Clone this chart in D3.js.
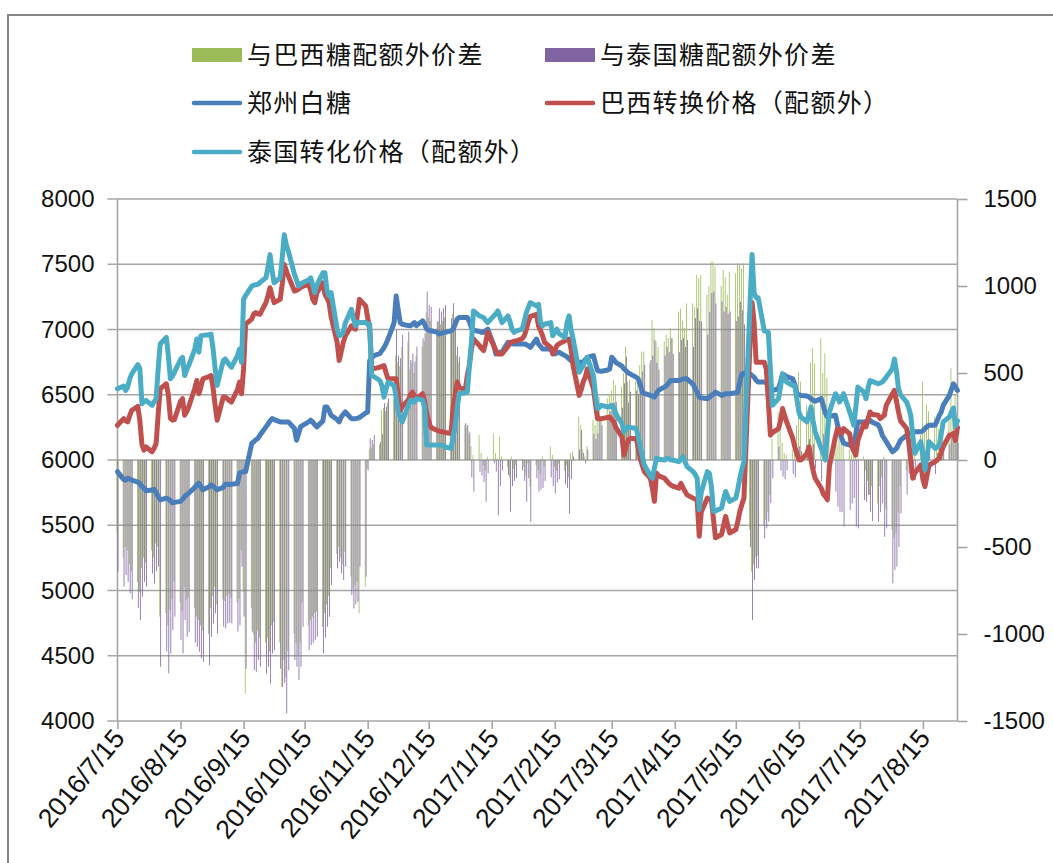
<!DOCTYPE html>
<html lang="zh">
<head>
<meta charset="utf-8">
<title>白糖配额外价差</title>
<script src="https://cdnjs.cloudflare.com/ajax/libs/d3/7.8.5/d3.min.js"></script>
<style>
  body { margin: 0; background: #fff; }
  svg { display: block; font-family: "Liberation Sans", Arial, sans-serif; }
  .grid line { stroke: #a6a6a6; stroke-width: 1.6; }
  .axis path { display: none; }
  .axis line { stroke: #a6a6a6; stroke-width: 1.6; }
  .axis text { fill: #111; font-size: 24px; font-family: "Liberation Sans", Arial, sans-serif; }
  .axis.x text { font-size: 26.5px; }
  .legend text { font-family: "Noto Sans CJK SC", sans-serif; font-size: 25px; fill: #111; letter-spacing: 1.3px; }
  .series { fill: none; stroke-width: 5; stroke-linejoin: round; stroke-linecap: round; }
</style>
</head>
<body>
<div id="chart"></div>
<script>

/* Data: one value per weekday, 2016-07-15 .. 2017-09-01 */
/* ===================================================== */

var firstDay = '2016-07-15';
var lastDay = '2017-09-01';

// 郑州白糖
var zhengzhou = [5911,
  5850,5845,5860,5855,5845, 5830,5820,5797,5785,5765, 5770,5775,5750,5720,5695, 5708,5700,5690,5672,5675,
  5683,5700,5720,5733,5745, 5790,5810,5822,5795,5772, 5795,5810,5800,5785,5772, 5790,5815,5815,5812,5815,
  5820,5899,5905,5911,5911, 6127,6140,6155,6165,6190, 6254,6275,6300,6317,6310, 6292,6292,6292,6292,6292,
  6241,6152,6200,6254,6265, 6292,6305,6290,6270,6254, 6300,6406,6406,6380,6343, 6310,6292,6330,6350,6368,
  6317,6317,6317,6320,6325, 6360,6368,6762,6780,6800, 6815,6838,6860,6890,6927, 7053,7257,7150,7053,7040,
  7030,7028,7040,7053,7030, 7066,7040,7003,6995,6990, 6980,6965,6970,6975,6978, 6990,7003,7040,7080,7092,
  7092,7092,7060,7015,6995, 6985,6978,6978,6990,7003, 6880,6813,6820,6826,6826, 6901,6895,6890,6889,6889,
  6889,6889,6885,6875,6863, 6927,6888,6870,6851,6851, 6851,6830,6813,6820,6826, 6800,6790,6775,6762,6758,
  6749,6749,6749,6770,6787, 6800,6740,6686,6682,6680, 6690,6698,6787,6770,6749, 6720,6698,6685,6670,6660,
  6635,6622,6580,6520,6510, 6495,6490,6482,6510,6533, 6560,6571,6590,6609,6609, 6609,6615,6620,6622,6622,
  6580,6546,6520,6482,6476, 6470,6480,6495,6505,6520, 6495,6500,6508,6508,6508, 6515,6520,6600,6660,6665,
  6660,6647,6635,6610,6597, 6597,6590,6570,6550,6533, 6546,6600,6660,6650,6640, 6622,6580,6508,6500,6495,
  6490,6482,6470,6457,6450, 6470,6420,6360,6330,6335, 6343,6270,6216,6170,6130, 6114,6120,6127,6200,6292,
  6292,6295,6300,6305,6290, 6270,6240,6190,6165,6140, 6063,6075,6089,6120,6152, 6190,6203,6210,6216,6216,
  6216,6225,6241,6255,6267, 6267,6300,6340,6368,6420, 6495,6540,6584,6560,6533];

// 巴西转换价格（配额外）
var brazilPrice = [6266,
  6317,6300,6292,6340,6381, 6410,6300,6120,6076,6100, 6063,6090,6127,6350,6546, 6584,6500,6320,6305,6310,
  6450,6470,6343,6370,6406, 6550,6609,6508,6560,6622, 6640,6647,6550,6420,6305, 6482,6482,6470,6455,6444,
  6540,6597,6508,6700,7041, 7080,7120,7130,7120,7117, 7206,7260,7320,7260,7206, 7231,7350,7498,7450,7409,
  7295,7300,7310,7320,7330, 7346,7300,7230,7206,7280, 7358,7269,7240,7206,7100, 6900,6762,6830,6901,6950,
  7028,7010,7003,7120,7231, 7181,7090,7003,6698,6700, 6711,6718,6724,6670,6622, 6622,6622,6500,6381,6410,
  6460,6500,6520,6490,6470, 6508,6450,6355,6300,6250, 6228,6222,6218,6216,6210, 6203,6400,6495,6597,6560,
  6533,6650,6724,6850,6927, 6876,6855,6838,6900,6978, 6876,6840,6813,6813,6813, 6870,6901,6905,6910,6912,
  6930,6952,7000,7060,7100, 7117,7028,6990,6952,6900, 6863,6813,6840,6876,6890, 6914,6920,6927,6850,6724,
  6495,6540,6600,6635,6698, 6546,6430,6317,6317,6317, 6325,6330,6310,6292,6250, 6178,6038,6100,6150,6165,
  6165,6100,6013,5960,5911, 5860,5780,5683,5899,5880, 5860,5840,5822,5810,5800, 5784,5822,5790,5760,5733,
  5708,5700,5695,5416,5600, 5708,5700,5695,5550,5404, 5429,5500,5568,5500,5441, 5467,5530,5607,5660,5708,
  6900,7206,7053,6749,6749, 6749,6698,6450,6190,6210, 6241,6300,6394,6340,6292, 6165,6100,6050,6000,6000,
  6050,6102,6000,5920,5860, 5784,5740,5720,5695,5950, 6180,6241,6220,6203,6241, 6200,6102,6070,6038,6150,
  6280,6254,6310,6368,6350, 6343,6317,6330,6343,6420, 6508,6533,6450,6368,6300, 6241,6140,6000,5860,5900,
  5962,5850,5797,5880,5962, 5987,6000,6013,6060,6102, 6190,6195,6203,6150,6250];

// 泰国转化价格（配额外）
var thaiPrice = [6546,
  6566,6533,6560,6620,6660, 6730,6700,6431,6445,6457, 6419,6445,6470,6700,6889, 6940,6800,6622,6640,6673,
  6770,6787,6647,6690,6724, 6850,6927,6826,6953,6955, 6960,6965,6850,6700,6571, 6762,6775,6750,6730,6711,
  6800,6851,6749,7232,7260, 7333,7340,7343,7346,7360, 7396,7480,7574,7450,7358, 7396,7550,7726,7650,7600,
  7422,7380,7333,7345,7358, 7380,7396,7340,7282,7340, 7434,7434,7300,7257,7282, 7000,6952,6960,6978,7050,
  7155,7080,7028,7053,7053, 7053,7041,7041,6647,6640, 6609,6570,6482,6540,6597, 6571,6480,6368,6330,6292,
  6420,6457,6450,6444,6470, 6460,6406,6114,6114,6114, 6114,6114,6114,6110,6100, 6089,6180,6254,6400,6508,
  6515,6520,6720,6901,7142, 7104,7098,7092,7070,7053, 7104,7120,7142,7100,7053, 7104,7060,7000,6978,6990,
  7003,7060,7130,7170,7206, 7181,7193,7053,7028,7040, 7053,6952,6980,7003,6970, 6939,7050,7104,7000,6927,
  6673,6700,6724,6760,6787, 6647,6500,6394,6405,6419, 6406,6410,6419,6400,6355, 6280,6216,6235,6254,6250,
  6241,6180,6102,6030,5962, 5880,5860,5940,6013,6005, 6000,6013,6010,6000,6000, 5987,6005,6025,5990,5949,
  5911,5890,5860,5619,5750, 5911,5898,5800,5607,5610, 5632,5700,5759,5720,5683, 5708,5780,5860,5930,5987,
  7200,7574,7282,7244,7244, 6990,6985,6978,6700,6419, 6470,6560,6660,6630,6597, 6571,6571,6470,6368,6330,
  6292,6350,6406,6300,6216, 6089,6050,6000,6200,6368, 6508,6480,6444,6470,6508, 6368,6320,6267,6400,6559,
  6520,6470,6550,6609,6603, 6584,6590,6597,6615,6635, 6700,6774,6680,6546,6500, 6444,6400,6343,6190,6051,
  6140,6030,5924,6030,6140, 6089,6100,6114,6200,6292, 6330,6368,6398,6260,6300];

// 与巴西糖配额外价差
var brazilSpread = [-420,
  -560,-500,-520,-600,-640, -700,-760,-620,-560,-590, -520,-560,-480,-500,-900, -880,-950,-860,-800,-700,
  -820,-870,-730,-800,-790, -850,-900,-920,-950,-980, -1000,-850,-780,-730,-830, -800,-810,-780,-770,-790,
  -820,-800,-520,-760,-1342, -850,-1000,-1050,-980,-1020, -1050,-1020,-1100,-950,-930, -1050,-1304,-1150,-1250,-1100,
  -1000,-1050,-1120,-1050,-820, -950,-920,-900,-880,-870, -960,-880,-830,-780,-620, -540,-500,-560,-600,-530,
  -670,-740,-720,-700,-882, -728,-48,60,70,90, 90,288,300,280,330, 350,600,560,540,650,
  680,520,560,500,600, 650,680,850,820,800, 740,800,780,800,820, 760,840,740,600,560,
  200,190,150,80,29, 144,40,-30,-60,20, 153,40,10,134,20, -40,-100,20,-50,-30,
  10,-40,-90,-20,-150, -30,-60,-80,20,-40, 77,30,-40,-60,-20, -60,-30,-100,40,48,
  249,200,60,20,80, 230,200,250,364,240, 355,374,400,460,431, 420,500,652,450,460,
  450,480,546,623,623, 560,805,760,680,650, 680,719,700,757,700, 853,870,800,760,900,
  900,880,1064,1045,1064, 950,1000,1140,1141,1112, 1000,1092,1050,950,1083, 1073,1131,1121,1100,1131,
  -400,-642,-600,-560,-550, -380,-345,-300,-200,125, 278,201,100,40,30, 60,100,200,508,450,
  316,280,560,642,556, 700,500,613,470,300, 160,90,200,180,150, 60,30,40,20,10,
  20,-60,-120,-200,-150, -250,-150,-100,20,-280, -400,-450,-420,-300,-150, -60,40,120,201,60,
  144,450,200,316,280, 250,200,180,150,200, 250,527,300,380,200];

// 与泰国糖配额外价差
var thaiSpread = [-642,
  -728,-661,-700,-767,-801, -850,-920,-786,-700,-728, -652,-709,-640,-613,-1188, -1100,-1227,-1112,-977,-900,
  -1035,-1112,-920,-1016,-990, -1050,-1073,-1102,-1140,-1160, -1179,-1016,-940,-882,-997, -958,-968,-940,-935,-939,
  -987,-950,-613,-900,-1200, -987,-1208,-1217,-1150,-1188, -1227,-1188,-1284,-1112,-1093, -1200,-1304,-1280,-1457,-1208,
  -1150,-1188,-1265,-1188,-958, -1093,-1064,-1050,-1035,-1016, -1112,-1020,-958,-901,-719, -623,-585,-650,-690,-613,
  -776,-853,-830,-815,-613, -671,-60,125,115,144, 105,150,326,307,355, 374,748,600,585,719,
  738,575,613,566,652, 700,728,968,891,880, 796,872,853,872,891, 815,901,796,652,594,
  211,201,163,-100,-182, -67,-90,-125,-240,-77, -20,-67,-316,-150,-60, -86,-297,-150,-120,-105,
  -60,-120,-240,-105,-355, -105,-182,-170,-160,-120, -100,-150,-192,-130,-110, -140,-160,-307,-110,20,
  60,172,40,-20,60, 150,120,153,250,200, 250,280,300,330,335, 300,441,594,330,393,
  400,380,450,508,546, 575,600,690,560,520, 600,650,620,700,610, 620,690,700,650,690,
  650,815,872,800,796, 720,850,960,968,900, 911,853,880,840,853, 800,824,910,860,780,
  -500,-920,-690,-623,-623, -450,-393,-355,-250,-105, 77,-60,-96,-110,-60, -80,-100,60,80,50,
  40,120,-80,90,-50, -120,150,80,-50,-67, -182,-268,-297,-300,-383, -288,-250,-220,-383,-393,
  -230,-240,-200,-297,-350, -355,-300,-250,-441,-393, -709,-632,-613,-500,-307, -200,-77,-60,-50,-115,
  -110,-163,-120,60,50, -80,40,80,120,60, 90,150,200,120,100];

var monthTicks = ['2016/7/15', '2016/8/15', '2016/9/15', '2016/10/15', '2016/11/15', '2016/12/15',
  '2017/1/15', '2017/2/15', '2017/3/15', '2017/4/15', '2017/5/15', '2017/6/15', '2017/7/15', '2017/8/15'];
var leftTicks = [4000, 4500, 5000, 5500, 6000, 6500, 7000, 7500, 8000];
var rightTicks = [-1500, -1000, -500, 0, 500, 1000, 1500];

var barNames = ['与巴西糖配额外价差', '与泰国糖配额外价差'];
var lineNames = ['郑州白糖', '巴西转换价格（配额外）', '泰国转化价格（配额外）'];


/* Set up */
/* ====== */

var W = 1053, H = 863;
var margin = { top: 199, left: 117.5, bottom: H - 721, right: W - 957.5 };

var colors = {
  green: '#9bbb59', purple: '#8064a2',
  blue: '#4a7ebb', red: '#c0504d', cyan: '#4bacc6'
};

var parseIso = d3.timeParse('%Y-%m-%d');
var parseSlash = d3.timeParse('%Y/%m/%d');

// trading calendar: weekdays only
var days = d3.timeDay.range(parseIso(firstDay), d3.timeDay.offset(parseIso(lastDay), 1))
  .filter(function(d) { return d.getDay() !== 0 && d.getDay() !== 6; });

var n = Math.min(days.length, zhengzhou.length, brazilPrice.length, thaiPrice.length,
  brazilSpread.length, thaiSpread.length);
if (n !== days.length) console.log('length mismatch', days.length, n);

var rows = days.slice(0, n).map(function(d, i) {
  return { date: d, zz: zhengzhou[i], br: brazilPrice[i], th: thaiPrice[i],
    brS: brazilSpread[i], thS: thaiSpread[i] };
});

var svg = d3.select('#chart').append('svg')
  .attr('width', W)
  .attr('height', H);

// chart area frame (only top and left edges fall inside the picture)
svg.append('rect')
  .attr('x', 8).attr('y', 15)
  .attr('width', W + 20).attr('height', H + 20)
  .attr('fill', 'none')
  .attr('stroke', '#868686')
  .attr('stroke-width', 2);


/* Scales */
/* ====== */

var x = d3.scaleTime()
  .domain([parseIso(firstDay), parseIso(lastDay)])
  .range([margin.left, W - margin.right]);

var yLeft = d3.scaleLinear()
  .domain([4000, 8000])
  .range([H - margin.bottom, margin.top]);

var yRight = d3.scaleLinear()
  .domain([-1500, 1500])
  .range([H - margin.bottom, margin.top]);


/* Grid and axes */
/* ------------- */

svg.append('g').attr('class', 'grid')
  .selectAll('line')
  .data(leftTicks).enter()
  .append('line')
    .attr('x1', margin.left - 10)
    .attr('x2', W - margin.right)
    .attr('y1', function(d) { return yLeft(d); })
    .attr('y2', function(d) { return yLeft(d); });

svg.append('g')
  .attr('class', 'axis')
  .attr('transform', 'translate(' + margin.left + ',0)')
  .call(d3.axisLeft(yLeft).tickValues(leftTicks).tickSize(0).tickPadding(23)
    .tickFormat(function(d) { return String(d); }));

svg.append('g')
  .attr('class', 'axis')
  .attr('transform', 'translate(' + (W - margin.right) + ',0)')
  .call(d3.axisRight(yRight).tickValues(rightTicks).tickSize(10).tickPadding(16)
    .tickFormat(function(d) { return String(d); }));

var monthDates = monthTicks.map(parseSlash);
var bottomAxis = svg.append('g')
  .attr('class', 'axis x')
  .attr('transform', 'translate(0,' + (H - margin.bottom) + ')')
  .call(d3.axisBottom(x).tickValues(monthDates).tickSize(8)
    .tickFormat(function(d, i) { return monthTicks[i]; }));

bottomAxis.selectAll('text')
  .attr('y', 0).attr('dy', 0)
  .style('text-anchor', 'end')
  .attr('transform', 'translate(8,18) rotate(-50)');

// vertical axis lines
svg.append('line')
  .attr('x1', margin.left).attr('x2', margin.left)
  .attr('y1', margin.top).attr('y2', H - margin.bottom)
  .attr('stroke', '#a6a6a6').attr('stroke-width', 1.6);
svg.append('line')
  .attr('x1', W - margin.right).attr('x2', W - margin.right)
  .attr('y1', margin.top).attr('y2', H - margin.bottom)
  .attr('stroke', '#a6a6a6').attr('stroke-width', 1.6);


/* Bars: spreads on the right axis */
/* ------------------------------- */

var gBars = svg.append('g');

function barY(v) { return Math.min(yRight(v), yRight(0)); }
function barH(v) { return Math.abs(yRight(v) - yRight(0)); }

// thin clustered bars, green left of the date, purple right of it
gBars.selectAll('.bar-br')
  .data(rows).enter()
  .append('rect')
    .attr('x', function(d) { return x(d.date) - 0.85; })
    .attr('width', 0.8)
    .attr('y', function(d) { return barY(d.brS); })
    .attr('height', function(d) { return barH(d.brS); })
    .attr('fill', colors.green);

gBars.selectAll('.bar-th')
  .data(rows).enter()
  .append('rect')
    .attr('x', function(d) { return x(d.date) + 0.05; })
    .attr('width', 0.8)
    .attr('y', function(d) { return barY(d.thS); })
    .attr('height', function(d) { return barH(d.thS); })
    .attr('fill', colors.purple);


/* Lines: prices on the left axis */
/* ------------------------------ */

function lineFor(key) {
  return d3.line()
    .x(function(d) { return x(d.date); })
    .y(function(d) { return yLeft(d[key]); });
}

[['zz', colors.blue], ['br', colors.red], ['th', colors.cyan]].forEach(function(s) {
  svg.append('path')
    .datum(rows)
    .attr('class', 'series')
    .attr('stroke', s[1])
    .attr('d', lineFor(s[0]));
});


/* Legend */
/* ====== */

var legend = svg.append('g').attr('class', 'legend');

var legendItems = [
  { name: barNames[0], color: colors.green, type: 'bar', col: 0, row: 0 },
  { name: barNames[1], color: colors.purple, type: 'bar', col: 1, row: 0 },
  { name: lineNames[0], color: colors.blue, type: 'line', col: 0, row: 1 },
  { name: lineNames[1], color: colors.red, type: 'line', col: 1, row: 1 },
  { name: lineNames[2], color: colors.cyan, type: 'line', col: 0, row: 2 }
];

var colX = [192, 545], rowY = [55, 103, 152];

legendItems.forEach(function(it) {
  var gx = colX[it.col], gy = rowY[it.row];
  if (it.type === 'bar') {
    legend.append('rect')
      .attr('x', gx).attr('y', gy - 7)
      .attr('width', 50).attr('height', 14)
      .attr('fill', it.color);
  } else {
    legend.append('line')
      .attr('x1', gx + 2).attr('x2', gx + 48)
      .attr('y1', gy).attr('y2', gy)
      .attr('stroke', it.color)
      .attr('stroke-width', 4.5)
      .attr('stroke-linecap', 'round');
  }
  legend.append('text')
    .attr('x', gx + 55)
    .attr('y', gy)
    .attr('dy', '0.36em')
    .text(it.name);
});

</script>
</body>
</html>
